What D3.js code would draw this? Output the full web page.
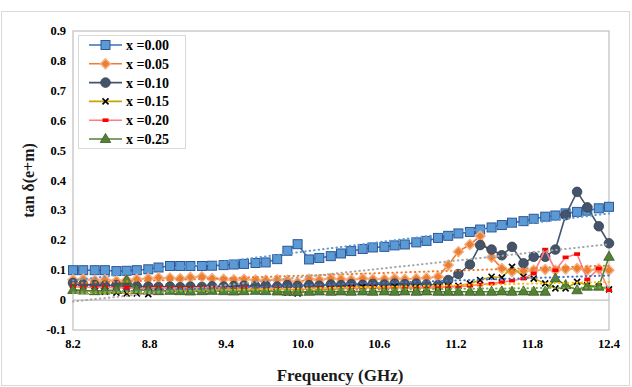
<!DOCTYPE html>
<html>
<head>
<meta charset="utf-8">
<title>tan delta vs frequency</title>
<script src="https://cdn.jsdelivr.net/npm/d3@7/dist/d3.min.js"></script>
<style>
    body { margin: 0; background: #fff; }
    svg { display: block; font-family: "Liberation Serif", "Times New Roman", serif; }
    .tick-label { font-size: 12.5px; font-weight: bold; fill: #000; }
    .legend-text { font-size: 14px; font-weight: bold; fill: #000; }
    .axis-title { font-weight: bold; fill: #1a1a1a; }
</style>
</head>
<body>
<svg id="chart" width="632" height="387"></svg>
<script>
// frequency points (GHz)
const freq = [8.20, 8.28, 8.37, 8.45, 8.54, 8.62, 8.70, 8.79, 8.87, 8.96,
    9.04, 9.12, 9.21, 9.29, 9.38, 9.46, 9.54, 9.63, 9.71, 9.80,
    9.88, 9.96, 10.05, 10.13, 10.22, 10.30, 10.38, 10.47, 10.55, 10.64,
    10.72, 10.80, 10.89, 10.97, 11.06, 11.14, 11.22, 11.31, 11.39, 11.48,
    11.56, 11.64, 11.73, 11.81, 11.90, 11.98, 12.06, 12.15, 12.23, 12.32, 12.40];

const x000 = [0.100, 0.100, 0.100, 0.100, 0.097, 0.098, 0.100, 0.103, 0.109, 0.114,
    0.114, 0.114, 0.114, 0.115, 0.117, 0.119, 0.121, 0.124, 0.126, 0.137,
    0.165, 0.187, 0.136, 0.141, 0.147, 0.156, 0.164, 0.171, 0.176, 0.178,
    0.183, 0.186, 0.193, 0.198, 0.208, 0.215, 0.223, 0.228, 0.236, 0.243,
    0.251, 0.259, 0.264, 0.272, 0.279, 0.283, 0.290, 0.295, 0.299, 0.307, 0.312];

const x005 = [0.068, 0.070, 0.066, 0.068, 0.064, 0.066, 0.070, 0.072, 0.075, 0.074,
    0.072, 0.076, 0.078, 0.072, 0.070, 0.068, 0.070, 0.067, 0.066, 0.068,
    0.066, 0.060, 0.070, 0.068, 0.072, 0.070, 0.068, 0.072, 0.070, 0.070,
    0.072, 0.070, 0.072, 0.074, 0.078, 0.117, 0.162, 0.186, 0.214, 0.143,
    0.106, 0.095, 0.098, 0.100, 0.102, 0.100, 0.104, 0.106, 0.100, 0.104, 0.100];

const x010 = [0.057, 0.052, 0.050, 0.048, 0.050, 0.048, 0.046, 0.045, 0.044, 0.045,
    0.043, 0.045, 0.044, 0.046, 0.045, 0.047, 0.048, 0.046, 0.048, 0.045,
    0.050, 0.047, 0.050, 0.048, 0.052, 0.050, 0.053, 0.051, 0.054, 0.052,
    0.055, 0.053, 0.055, 0.052, 0.050, 0.067, 0.087, 0.119, 0.184, 0.169,
    0.150, 0.178, 0.123, 0.145, 0.145, 0.169, 0.284, 0.362, 0.310, 0.247, 0.190];

const x015 = [0.035, 0.032, 0.030, 0.028, 0.025, 0.022, 0.022, 0.020, 0.030, 0.032,
    0.035, 0.034, 0.035, 0.036, 0.034, 0.036, 0.035, 0.034, 0.032, 0.028,
    0.025, 0.022, 0.030, 0.034, 0.036, 0.038, 0.040, 0.045, 0.040, 0.038,
    0.045, 0.040, 0.042, 0.040, 0.042, 0.045, 0.048, 0.055, 0.067, 0.078,
    0.075, 0.111, 0.078, 0.072, 0.056, 0.039, 0.039, 0.061, 0.050, 0.045, 0.036];

const x020 = [0.045, 0.043, 0.042, 0.044, 0.040, 0.042, 0.038, 0.040, 0.042, 0.040,
    0.041, 0.040, 0.042, 0.040, 0.041, 0.040, 0.042, 0.040, 0.038, 0.040,
    0.036, 0.034, 0.038, 0.040, 0.039, 0.040, 0.041, 0.040, 0.042, 0.040,
    0.041, 0.042, 0.040, 0.042, 0.043, 0.044, 0.045, 0.048, 0.052, 0.055,
    0.060, 0.065, 0.072, 0.089, 0.169, 0.100, 0.143, 0.154, 0.069, 0.106, 0.033];

const x025 = [0.034, 0.032, 0.030, 0.032, 0.034, 0.067, 0.035, 0.032, 0.030, 0.031,
    0.030, 0.029, 0.030, 0.031, 0.030, 0.029, 0.030, 0.031, 0.030, 0.029,
    0.028, 0.027, 0.028, 0.029, 0.028, 0.029, 0.028, 0.029, 0.028, 0.029,
    0.028, 0.029, 0.028, 0.029, 0.028, 0.028, 0.028, 0.028, 0.028, 0.028,
    0.029, 0.028, 0.029, 0.028, 0.028, 0.072, 0.050, 0.033, 0.045, 0.045, 0.145];

const seriesNames = ["x =0.00", "x =0.05", "x =0.10", "x =0.15", "x =0.20", "x =0.25"];
const xTicks = [8.2, 8.8, 9.4, 10.0, 10.6, 11.2, 11.8, 12.4];
const xTickLabels = ["8.2", "8.8", "9.4", "10.0", "10.6", "11.2", "11.8", "12.4"];
const yTicks = [-0.1, 0, 0.1, 0.2, 0.3, 0.4, 0.5, 0.6, 0.7, 0.8, 0.9];
const yTickLabels = ["-0.1", "0", "0.1", "0.2", "0.3", "0.4", "0.5", "0.6", "0.7", "0.8", "0.9"];

const series = [
    { name: seriesNames[0], values: x000, line: "#3A6FB0", marker: "square", fill: "#5B9BD5", stroke: "#2F5597", trend: "#5B9BD5" },
    { name: seriesNames[1], values: x005, line: "#ED7D31", marker: "diamond", fill: "#ED7D31", stroke: "#F4B183", trend: "#ED7D31" },
    { name: seriesNames[2], values: x010, line: "#44546A", marker: "circle", fill: "#44546A", stroke: "#333F50", trend: "#A5A5A5" },
    { name: seriesNames[3], values: x015, line: "#C9A400", marker: "cross", fill: "none", stroke: "#000", trend: "#FFC000" },
    { name: seriesNames[4], values: x020, line: "#FF7C80", marker: "rect", fill: "#FF0000", stroke: "#FF0000", trend: "#4472C4" },
    { name: seriesNames[5], values: x025, line: "#548235", marker: "triangle", fill: "#548235", stroke: "#385723", trend: "#70AD47" }
];

const svg = d3.select("#chart");
const plotLeft = 73, plotRight = 609, plotTop = 31, plotBottom = 330;

const x = d3.scaleLinear().domain([8.2, 12.4]).range([plotLeft, plotRight]);
const y = d3.scaleLinear().domain([-0.1, 0.9]).range([plotBottom, plotTop]);

// outer chart border
svg.append("rect")
    .attr("x", 1.5).attr("y", 11.5).attr("width", 628).attr("height", 374)
    .attr("fill", "none").attr("stroke", "#D9D9D9");

// plot area border
svg.append("rect")
    .attr("x", plotLeft).attr("y", plotTop).attr("width", plotRight - plotLeft).attr("height", plotBottom - plotTop)
    .attr("fill", "none").attr("stroke", "#BFBFBF").attr("stroke-width", 1.2);

// zero line
svg.append("line")
    .attr("x1", plotLeft).attr("x2", plotRight).attr("y1", y(0)).attr("y2", y(0))
    .attr("stroke", "#BFBFBF").attr("stroke-width", 1.2);

// y tick labels
svg.append("g").selectAll("text")
    .data(yTicks)
    .enter().append("text")
    .attr("class", "tick-label")
    .attr("x", plotLeft - 7)
    .attr("y", d => y(d) + 4)
    .attr("text-anchor", "end")
    .text((d, i) => yTickLabels[i]);

// x tick labels
svg.append("g").selectAll("text")
    .data(xTicks)
    .enter().append("text")
    .attr("class", "tick-label")
    .attr("x", d => x(d))
    .attr("y", 348)
    .attr("text-anchor", "middle")
    .text((d, i) => xTickLabels[i]);

// axis titles
svg.append("text")
    .attr("class", "axis-title")
    .attr("x", 340).attr("y", 381)
    .attr("text-anchor", "middle")
    .attr("font-size", 17)
    .text("Frequency (GHz)");

svg.append("text")
    .attr("class", "axis-title")
    .attr("transform", "translate(34," + ((plotTop + plotBottom) / 2) + ") rotate(-90)")
    .attr("text-anchor", "middle")
    .attr("font-size", 16)
    .text("tan δ(e+m)");

function drawMarker(g, s, cx, cy) {
    if (s.marker === "square") {
        g.append("rect").attr("x", cx - 4.5).attr("y", cy - 4.5).attr("width", 9).attr("height", 9)
            .attr("fill", s.fill).attr("stroke", s.stroke).attr("stroke-width", 1);
    } else if (s.marker === "diamond") {
        g.append("rect").attr("x", -3.5).attr("y", -3.5).attr("width", 7).attr("height", 7)
            .attr("transform", `translate(${cx},${cy}) rotate(45)`)
            .attr("fill", s.fill).attr("stroke", s.stroke).attr("stroke-width", 1.5);
    } else if (s.marker === "circle") {
        g.append("circle").attr("cx", cx).attr("cy", cy).attr("r", 4.8)
            .attr("fill", s.fill).attr("stroke", s.stroke).attr("stroke-width", 0.8);
    } else if (s.marker === "cross") {
        g.append("path").attr("d", `M${cx - 3},${cy - 3}L${cx + 3},${cy + 3}M${cx - 3},${cy + 3}L${cx + 3},${cy - 3}`)
            .attr("stroke", "#000").attr("stroke-width", 1.6);
    } else if (s.marker === "rect") {
        g.append("rect").attr("x", cx - 3).attr("y", cy - 1.8).attr("width", 6).attr("height", 3.6)
            .attr("fill", s.fill);
    } else if (s.marker === "triangle") {
        g.append("path").attr("d", d3.symbol(d3.symbolTriangle, 48)())
            .attr("transform", `translate(${cx},${cy + 0.5})`)
            .attr("fill", s.fill).attr("stroke", s.stroke).attr("stroke-width", 0.8);
    }
}

const line = d3.line().x((d, i) => x(freq[i])).y(d => y(d));

// series
series.forEach(s => {
    const g = svg.append("g");
    g.append("path")
        .attr("d", line(s.values))
        .attr("fill", "none")
        .attr("stroke", s.line)
        .attr("stroke-width", 1.6);
    s.values.forEach((v, i) => drawMarker(g, s, x(freq[i]), y(v)));
});

// linear trendlines (least squares)
series.forEach(s => {
    const mx = d3.mean(freq), my = d3.mean(s.values);
    let num = 0, den = 0;
    freq.forEach((f, i) => { num += (f - mx) * (s.values[i] - my); den += (f - mx) * (f - mx); });
    const slope = num / den, icpt = my - slope * mx;
    svg.append("line")
        .attr("x1", x(8.2)).attr("y1", y(icpt + slope * 8.2))
        .attr("x2", x(12.4)).attr("y2", y(icpt + slope * 12.4))
        .attr("stroke", s.trend)
        .attr("stroke-width", 2)
        .attr("stroke-linecap", "round")
        .attr("stroke-dasharray", "0.5,4");
});

// legend
const lg = svg.append("g");
lg.append("rect")
    .attr("x", 78.5).attr("y", 35.5).attr("width", 107).attr("height", 113)
    .attr("fill", "#fff").attr("stroke", "#D9D9D9");

series.forEach((s, i) => {
    const ly = 45 + i * 18.8;
    lg.append("line").attr("x1", 89).attr("x2", 122).attr("y1", ly).attr("y2", ly)
        .attr("stroke", s.line).attr("stroke-width", 1.6);
    drawMarker(lg, s, 105.5, ly);
    lg.append("text").attr("class", "legend-text")
        .attr("x", 126).attr("y", ly + 5)
        .text(s.name);
});
</script>
</body>
</html>
